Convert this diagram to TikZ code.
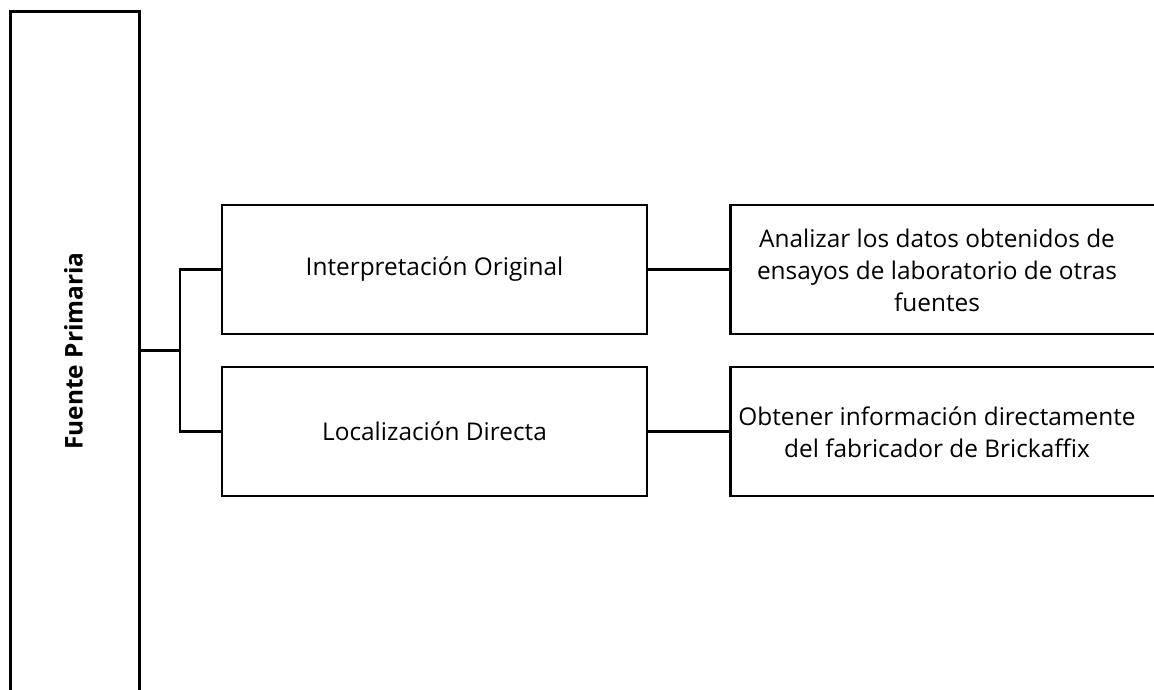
\documentclass[tikz,border=0pt]{standalone}
\usepackage{fontspec}
\setmainfont{Open Sans}
\begin{document}
\begin{tikzpicture}[x=1pt,y=-1pt,
  frame/.style={draw=black,line width=2.8pt,fill=white,inner sep=0pt},
  link/.style={draw=black,line width=2.8pt},
  body/.style={font=\fontsize{24.4}{32}\selectfont,align=center,inner sep=0pt}]
\useasboundingbox (0,0) rectangle (1154,689);
\clip (0,0) rectangle (1154,689);
% tall source column, open at the bottom
\node[frame,minimum width=129pt,minimum height=720pt,anchor=north west] (src) at (9,10) {};
\node[font=\bfseries\fontsize{24.4}{28}\selectfont,rotate=90] (srclbl) at (73.5,351) {Fuente Primaria};
% second level
\node[frame,minimum width=425pt,minimum height=129pt] (orig) at (434.5,269.5) {};
\node[body] at (orig.center) {Interpretación Original};
\node[frame,minimum width=425pt,minimum height=129pt] (dir) at (434.5,431.5) {};
\node[body] at (dir.center) {Localización Directa};
% third level, running past the right edge
\node[frame,minimum width=440pt,minimum height=129pt,anchor=west] (ana) at (729,269.5) {};
\node[body] (anatxt) at (937,270) {Analizar los datos obtenidos de\\ensayos de laboratorio de otras\\fuentes};
\node[frame,minimum width=440pt,minimum height=129pt,anchor=west] (fab) at (729,431.5) {};
\node[body] (fabtxt) at (937,432) {Obtener información directamente\\del fabricador de Brickaffix};
% connectors
\coordinate (fork) at (180,350.5);
\draw[link] (src.east |- fork) -- (fork);
\draw[link] (orig.west) -| (fork) |- (dir.west);
\draw[link] (orig.east) -- (ana.west);
\draw[link] (dir.east) -- (fab.west);
\end{tikzpicture}
\end{document}
